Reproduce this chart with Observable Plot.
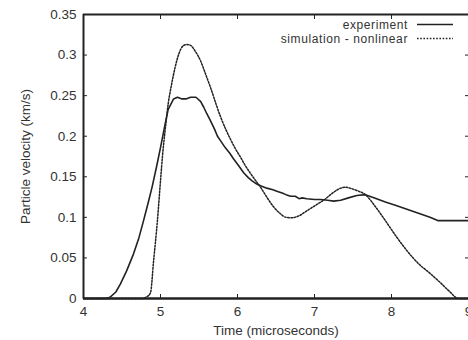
<!DOCTYPE html>
<html>
<head>
<meta charset="utf-8">
<script src="https://cdn.jsdelivr.net/npm/d3@7"></script>
<script src="https://cdn.jsdelivr.net/npm/@observablehq/plot@0.6"></script>
<style>
  html, body { margin: 0; padding: 0; background: #fff; }
  #chart svg { display: block; }
</style>
</head>
<body>
<div id="chart"></div>
<script>
// Tick values and labels
const xTicks = [4, 5, 6, 7, 8, 9];
const yTicks = [0, 0.05, 0.1, 0.15, 0.2, 0.25, 0.3, 0.35];
const yTickLabels = ["0", "0.05", "0.1", "0.15", "0.2", "0.25", "0.3", "0.35"];

// Series names
const seriesNames = ["experiment", "simulation - nonlinear"];

// Experiment (solid)
const expTime = [4.0, 4.3, 4.35, 4.42, 4.48, 4.56, 4.65, 4.72, 4.78, 4.84, 4.89, 4.95, 5.0, 5.06, 5.1, 5.17, 5.22, 5.28, 5.33, 5.39, 5.46, 5.52, 5.56, 5.6, 5.65, 5.7, 5.74, 5.79, 5.84, 5.9, 5.95, 6.02, 6.08, 6.14, 6.19, 6.25, 6.3, 6.38, 6.46, 6.52, 6.58, 6.63, 6.69, 6.75, 6.8, 6.84, 6.9, 7.0, 7.08, 7.17, 7.25, 7.34, 7.44, 7.55, 7.66, 7.78, 7.92, 8.05, 8.2, 8.35, 8.5, 8.6, 8.7, 8.8, 9.0];
const expVel  = [0, 0, 0.002, 0.008, 0.018, 0.034, 0.055, 0.075, 0.096, 0.118, 0.137, 0.163, 0.186, 0.215, 0.233, 0.246, 0.248, 0.246, 0.246, 0.248, 0.248, 0.243, 0.236, 0.228, 0.219, 0.209, 0.2, 0.193, 0.186, 0.179, 0.172, 0.163, 0.155, 0.149, 0.145, 0.141, 0.139, 0.136, 0.134, 0.132, 0.13, 0.128, 0.126, 0.126, 0.123, 0.124, 0.123, 0.122, 0.122, 0.121, 0.12, 0.121, 0.124, 0.127, 0.128, 0.124, 0.119, 0.115, 0.11, 0.105, 0.1, 0.096, 0.096, 0.096, 0.096];

// Simulation - nonlinear (dashed)
const simTime = [4.0, 4.75, 4.82, 4.87, 4.91, 4.96, 5.0, 5.03, 5.06, 5.1, 5.14, 5.19, 5.24, 5.29, 5.34, 5.39, 5.45, 5.52, 5.58, 5.65, 5.72, 5.78, 5.85, 5.91, 5.97, 6.04, 6.1, 6.17, 6.23, 6.3, 6.38, 6.46, 6.55, 6.63, 6.71, 6.8, 6.9, 7.0, 7.13, 7.25, 7.34, 7.4, 7.46, 7.55, 7.66, 7.8, 7.92, 8.05, 8.2, 8.35, 8.5, 8.64, 8.75, 8.87, 9.0];
const simVel  = [0, 0, 0.002, 0.007, 0.046, 0.096, 0.145, 0.18, 0.207, 0.24, 0.262, 0.285, 0.302, 0.311, 0.313, 0.312, 0.305, 0.293, 0.278, 0.26, 0.24, 0.224, 0.208, 0.196, 0.185, 0.174, 0.164, 0.154, 0.146, 0.137, 0.125, 0.114, 0.105, 0.1, 0.0995, 0.102, 0.108, 0.114, 0.122, 0.131, 0.136, 0.137, 0.136, 0.133, 0.128, 0.112, 0.096, 0.078, 0.059, 0.043, 0.031, 0.019, 0.009, 0, 0];

const expData = expTime.map((t, i) => ({t, v: expVel[i]}));
const simData = simTime.map((t, i) => ({t, v: simVel[i]}));

const ink = "#222";
const textInk = "#333";
const font = "'Liberation Sans', Arial, sans-serif";
const simDash = "1.6,1.6";

function legend(index, scales, values, dims) {
  const g = d3.create("svg:g")
    .attr("font-family", font)
    .attr("font-size", 12)
    .attr("letter-spacing", "0.6px")
    .attr("fill", textInk);
  const xr = dims.width - dims.marginRight;
  const textX = xr - 60, lineX1 = xr - 51, lineX2 = xr - 15;
  const styles = [{dash: null, w: 1.6}, {dash: simDash, w: 1.5}];
  seriesNames.forEach((name, i) => {
    const y = dims.marginTop + 10.5 + i * 14;
    g.append("text").attr("x", textX).attr("y", y).attr("text-anchor", "end")
      .attr("dy", "0.35em").text(name);
    g.append("line").attr("x1", lineX1).attr("x2", lineX2).attr("y1", y).attr("y2", y)
      .attr("stroke", ink).attr("stroke-width", styles[i].w)
      .attr("stroke-dasharray", styles[i].dash);
  });
  return g.node();
}

const chart = Plot.plot({
  width: 468,
  height: 340,
  marginLeft: 83,
  marginRight: 0,
  marginTop: 14,
  marginBottom: 42,
  style: {fontFamily: font, fontSize: "13.5px", color: textInk, background: "#fff"},
  x: {domain: [4, 9]},
  y: {domain: [0, 0.35]},
  marks: [
    Plot.axisX(xTicks, {anchor: "bottom", tickSize: -4, tickPadding: 12, stroke: ink,
      label: "Time (microseconds)", labelAnchor: "center", labelOffset: 36, labelArrow: "none"}),
    Plot.axisX(xTicks, {anchor: "top", tickSize: -4, tickFormat: () => "", stroke: ink, label: null}),
    Plot.axisY(yTicks, {anchor: "left", tickSize: -4, tickPadding: 11, stroke: ink,
      tickFormat: (d) => yTickLabels[yTicks.indexOf(d)],
      label: "Particle velocity (km/s)", labelAnchor: "center", labelOffset: 63, labelArrow: "none"}),
    Plot.axisY(yTicks, {anchor: "right", tickSize: -4, tickFormat: () => "", stroke: ink, label: null}),
    Plot.ruleX([4], {stroke: ink, strokeWidth: 2}),
    Plot.ruleY([0.35], {stroke: ink, strokeWidth: 2}),
    Plot.ruleY([0], {stroke: ink, strokeWidth: 2.5}),
    Plot.line(simData, {x: "t", y: "v", stroke: ink, strokeWidth: 1.5, strokeDasharray: simDash, curve: "monotone-x"}),
    Plot.line(expData, {x: "t", y: "v", stroke: ink, strokeWidth: 1.6, curve: "linear"}),
    legend
  ]
});
document.getElementById("chart").appendChild(chart);
</script>
</body>
</html>
